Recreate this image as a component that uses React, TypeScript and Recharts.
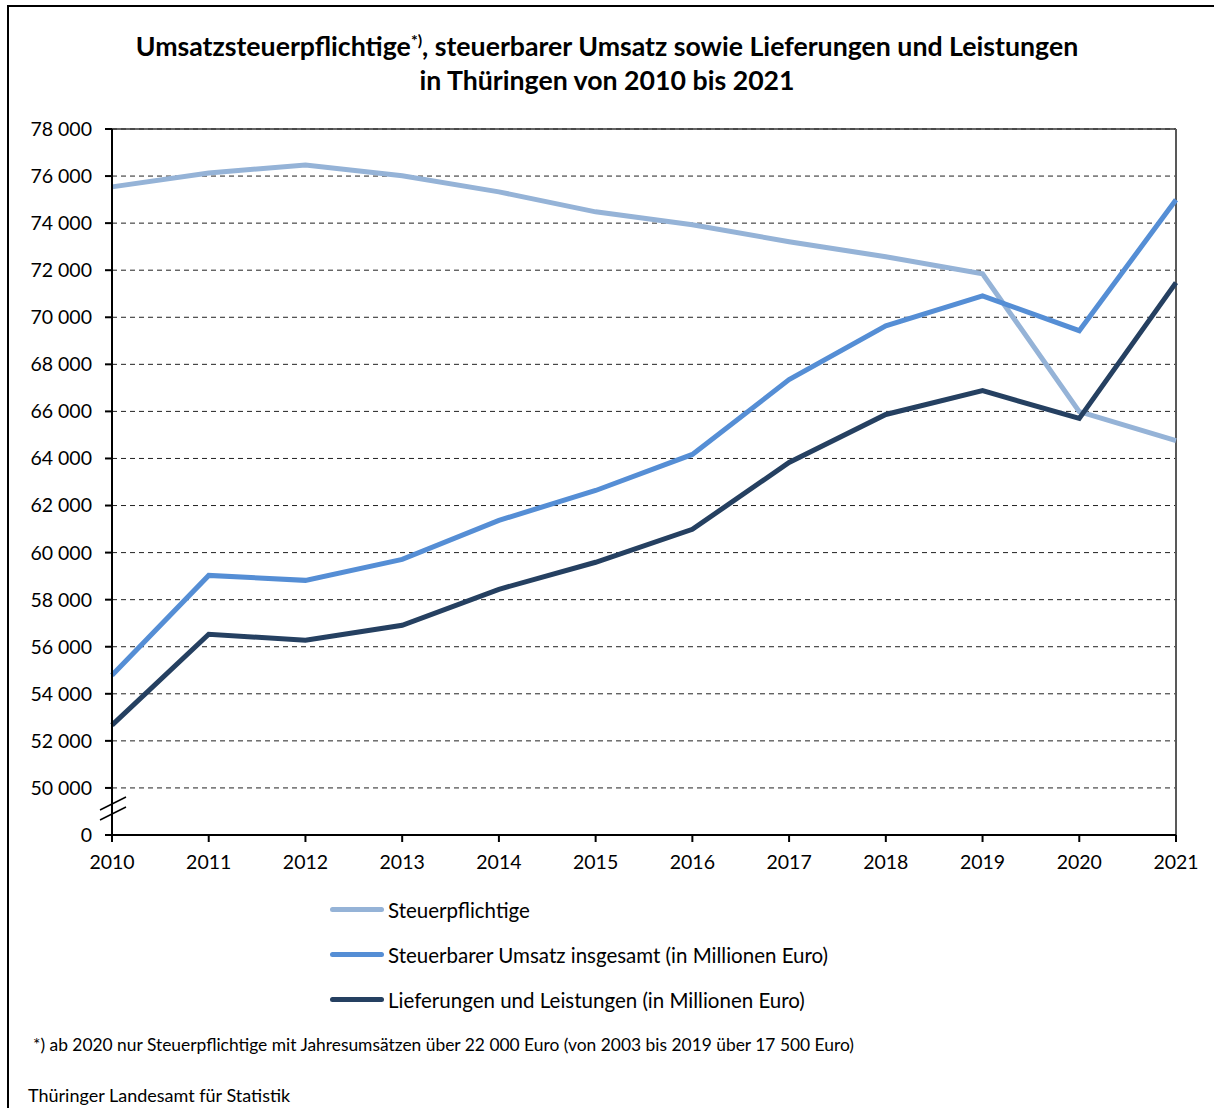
import React from "react";
import { LineChart, Line, XAxis, YAxis, CartesianGrid, ReferenceLine } from "recharts";

const years = [2010, 2011, 2012, 2013, 2014, 2015, 2016, 2017, 2018, 2019, 2020, 2021];
const steuerpflichtige = [75540, 76130, 76470, 76010, 75330, 74480, 73930, 73210, 72570, 71850, 65990, 64760];
const umsatzGesamt = [54790, 59030, 58820, 59710, 61370, 62640, 64170, 67350, 69640, 70910, 69430, 74990];
const lieferungen = [52670, 56530, 56280, 56910, 58440, 59590, 60990, 63830, 65870, 66880, 65700, 71470];

// 48000 sits where the axis break shows "0"
const yTicks = [48000, 50000, 52000, 54000, 56000, 58000, 60000, 62000, 64000, 66000, 68000, 70000, 72000, 74000, 76000, 78000];

const series = [
  { key: "steuerpflichtige", name: "Steuerpflichtige", color: "#95b3d7" },
  { key: "umsatz", name: "Steuerbarer Umsatz insgesamt (in Millionen Euro)", color: "#558ed5" },
  { key: "lieferungen", name: "Lieferungen und Leistungen (in Millionen Euro)", color: "#254061" },
];

const data = years.map((y, i) => ({
  year: y,
  steuerpflichtige: steuerpflichtige[i],
  umsatz: umsatzGesamt[i],
  lieferungen: lieferungen[i],
}));

const FONT = "Lato, 'Open Sans', sans-serif";

const fmt = (v: number) =>
  v === 48000 ? "0" : String(v).replace(/\B(?=(\d{3})+(?!\d))/g, " ");

export default function App() {
  return (
    <div style={{ position: "absolute", left: 0, top: 0, width: 1214, height: 1108, overflow: "hidden", background: "#fff", fontFamily: FONT }}>
      <div style={{ position: "absolute", left: 7, top: 5, width: 1240, height: 1140, border: "2px solid #000", boxSizing: "border-box" }} />
      <div style={{ position: "absolute", left: 0, width: 1214, top: 29, textAlign: "center", fontWeight: 700, fontSize: 26.7, lineHeight: "34px", color: "#000" }}>
        Umsatzsteuerpflichtige<sup style={{ fontSize: 16, lineHeight: 0 }}>*)</sup>, steuerbarer Umsatz sowie Lieferungen und Leistungen
        <br />
        in Thüringen von 2010 bis 2021
      </div>
      <div style={{ position: "absolute", left: 0, top: 0 }}>
        <LineChart width={1214} height={900} data={data} margin={{ top: 129, right: 38, left: 12, bottom: 25 }}>
          <CartesianGrid vertical={false} stroke="#222" strokeDasharray="5 4" strokeWidth={1} />
          <XAxis
            dataKey="year"
            tick={{ fontSize: 19.5, fill: "#000", fontFamily: FONT }}
            tickSize={7}
            tickMargin={13}
            stroke="#000"
            strokeWidth={2}
            height={40}
          />
          <YAxis
            domain={[48000, 78000]}
            ticks={yTicks}
            interval={0}
            tickFormatter={fmt}
            tick={{ fontSize: 19.5, fill: "#000", fontFamily: FONT }}
            tickSize={7}
            tickMargin={13}
            stroke="#000"
            strokeWidth={2}
            width={100}
          />
          <ReferenceLine y={78000} stroke="#333" strokeWidth={1.5} />
          <ReferenceLine x={2021} stroke="#595959" strokeWidth={2} />
          {series.map((s) => (
            <Line
              key={s.key}
              dataKey={s.key}
              name={s.name}
              stroke={s.color}
              strokeWidth={5}
              dot={false}
              type="linear"
              isAnimationActive={false}
            />
          ))}
        </LineChart>
      </div>
      <svg style={{ position: "absolute", left: 0, top: 0 }} width={1214} height={1108}>
        <line x1={100} y1={810} x2={126} y2={797} stroke="#000" strokeWidth={1.5} />
        <line x1={100} y1={820} x2={126} y2={807} stroke="#000" strokeWidth={1.5} />
      </svg>
      <div style={{ position: "absolute", left: 330, top: 887 }}>
        {series.map((s) => (
          <div key={s.key} style={{ display: "flex", alignItems: "center", height: 45, fontSize: 20.5, color: "#000" }}>
            <span style={{ display: "inline-block", width: 54, height: 5, borderRadius: 3, background: s.color, marginRight: 4 }} />
            <span>{s.name}</span>
          </div>
        ))}
      </div>
      <div style={{ position: "absolute", left: 33, top: 1034, fontSize: 17.4, color: "#000" }}>
        *) ab 2020 nur Steuerpflichtige mit Jahresumsätzen über 22 000 Euro (von 2003 bis 2019 über 17 500 Euro)
      </div>
      <div style={{ position: "absolute", left: 28, top: 1084, fontSize: 18, color: "#000" }}>
        Thüringer Landesamt für Statistik
      </div>
    </div>
  );
}
